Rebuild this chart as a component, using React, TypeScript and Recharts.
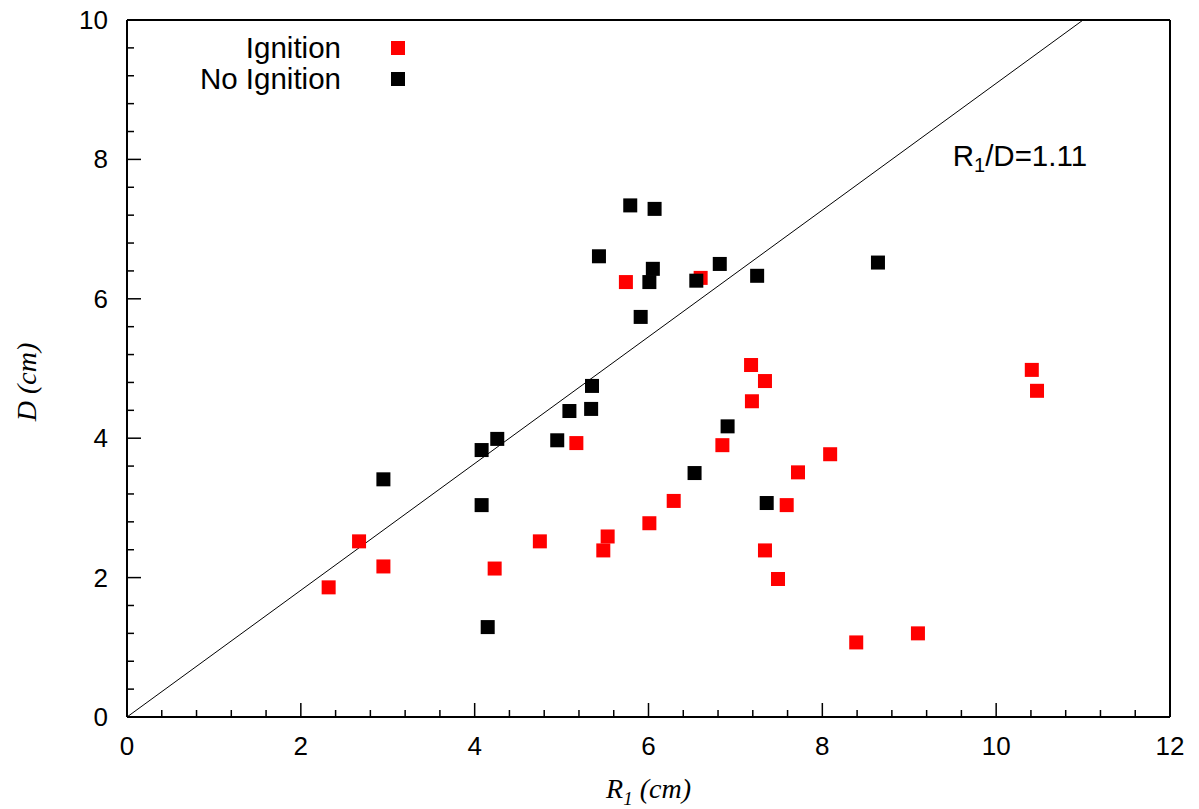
import {
  ReferenceDot,
  ReferenceLine,
  Scatter,
  ScatterChart,
  XAxis,
  YAxis,
} from 'recharts'

// Ignition / no-ignition tests: R1 (cm) against D (cm)
const IGNITION_R1 = [
  2.32, 2.67, 2.95, 4.23, 4.75, 5.17, 5.48, 5.53, 6.01, 6.29, 6.85, 7.18, 7.19,
  7.34, 7.34, 7.49, 7.59, 7.72, 8.09, 8.39, 9.1, 10.41, 10.47, 5.74, 6.6,
]
const IGNITION_D = [
  1.86, 2.52, 2.16, 2.13, 2.52, 3.93, 2.39, 2.59, 2.78, 3.1, 3.9, 5.05, 4.53,
  4.82, 2.39, 1.98, 3.04, 3.51, 3.77, 1.07, 1.2, 4.98, 4.68, 6.24, 6.3,
]
const NO_IGNITION_R1 = [
  5.79, 6.07, 5.43, 6.05, 6.01, 6.55, 6.82, 7.25, 5.91, 5.35, 5.34, 5.09, 4.95,
  4.26, 4.08, 6.91, 8.64, 2.95, 4.08, 4.15, 6.53, 7.36,
]
const NO_IGNITION_D = [
  7.34, 7.29, 6.61, 6.43, 6.24, 6.26, 6.5, 6.33, 5.74, 4.75, 4.42, 4.39, 3.97,
  3.99, 3.83, 4.17, 6.52, 3.41, 3.04, 1.29, 3.5, 3.07,
]
const SERIES_NAMES = ['Ignition', 'No Ignition']

const X_MAX = 12
const Y_MAX = 10
const MINOR_STEP = 0.4
const LABEL_STEP = 2
const RATIO_LINE = 1.1 // drawn slope of the R1/D line
const RATIO_LABEL = 'R1/D=1.11'

const RED = '#ff0000'
const BLACK = '#000000'
const SANS = '"Liberation Sans", Arial, Helvetica, sans-serif'
const SERIF = '"Liberation Serif", "Times New Roman", serif'
const TICK_FONT = 26
const TEXT_FONT = 28
const KEY_FONT = 29.5
const MAJOR_LEN = 14
const MINOR_LEN = 7

const minorTicks = (max: number) =>
  Array.from({ length: Math.round(max / MINOR_STEP) + 1 }, (_, i) =>
    Number((i * MINOR_STEP).toFixed(1))
  )

const isMajor = (v: number) =>
  Math.abs(v / LABEL_STEP - Math.round(v / LABEL_STEP)) < 1e-6

const ignitionData = IGNITION_R1.map((r, i) => ({ x: r, y: IGNITION_D[i] }))
const noIgnitionData = NO_IGNITION_R1.map((r, i) => ({ x: r, y: NO_IGNITION_D[i] }))

// ticks point inward, labels only on bottom/left
function TickMark({ x, y, payload, side }: any) {
  const v = payload.value as number
  const len = isMajor(v) ? MAJOR_LEN : MINOR_LEN
  const line =
    side === 'bottom'
      ? { x1: x, x2: x, y1: y, y2: y - len }
      : side === 'top'
        ? { x1: x, x2: x, y1: y, y2: y + len }
        : side === 'left'
          ? { x1: x, x2: x + len, y1: y, y2: y }
          : { x1: x, x2: x - len, y1: y, y2: y }
  return (
    <g>
      <line {...line} stroke={BLACK} strokeWidth={1.5} />
      {isMajor(v) && side === 'bottom' && (
        <text
          x={x}
          y={y + 38}
          textAnchor="middle"
          fontFamily={SANS}
          fontSize={TICK_FONT}
          fill={BLACK}
        >
          {v}
        </text>
      )}
      {isMajor(v) && side === 'left' && (
        <text
          x={x - 19}
          y={y}
          textAnchor="end"
          dominantBaseline="central"
          fontFamily={SANS}
          fontSize={TICK_FONT}
          fill={BLACK}
        >
          {v}
        </text>
      )}
    </g>
  )
}

const Square = (color: string) => (props: any) => (
  <rect x={props.cx - 7} y={props.cy - 7} width={14} height={14} fill={color} />
)

// gnuplot-style key: text right-aligned, marker to its right
function LegendBox() {
  const colors = [RED, BLACK]
  return (
    <div
      style={{
        position: 'absolute',
        left: 141,
        top: 32,
        fontFamily: SANS,
        fontSize: KEY_FONT,
        color: BLACK,
      }}
    >
      {SERIES_NAMES.map((name, i) => (
        <div key={name} style={{ display: 'flex', alignItems: 'center', height: 31 }}>
          <span style={{ width: 200, textAlign: 'right', lineHeight: '31px' }}>
            {name}
          </span>
          <span
            style={{
              width: 14,
              height: 14,
              marginLeft: 50,
              backgroundColor: colors[i],
            }}
          />
        </div>
      ))}
    </div>
  )
}

export default function App() {
  const axisLine = { stroke: BLACK, strokeWidth: 2 }
  return (
    <div
      style={{
        position: 'absolute',
        left: 0,
        top: 0,
        width: 1199,
        height: 809,
        background: '#fff',
      }}
    >
      <ScatterChart
        width={1199}
        height={809}
        margin={{ top: 10, right: 19, bottom: 52, left: 67 }}
      >
        <XAxis
          type="number"
          dataKey="x"
          domain={[0, X_MAX]}
          ticks={minorTicks(X_MAX)}
          interval={0}
          tickSize={0}
          tickMargin={0}
          height={40}
          axisLine={axisLine}
          tickLine={false}
          tick={<TickMark side="bottom" />}
          label={{
            position: 'bottom',
            content: ({ viewBox }: any) => (
              <text
                x={viewBox.x + viewBox.width / 2}
                y={viewBox.y + 81}
                textAnchor="middle"
                fontFamily={SERIF}
                fontStyle="italic"
                fontSize={TEXT_FONT}
                fill={BLACK}
              >
                R<tspan fontSize={19} dy={7}>1</tspan>
                <tspan dy={-7}> (cm)</tspan>
              </text>
            ),
          }}
        />
        <XAxis
          xAxisId="top"
          orientation="top"
          type="number"
          domain={[0, X_MAX]}
          ticks={minorTicks(X_MAX)}
          interval={0}
          tickSize={0}
          tickMargin={0}
          height={10}
          axisLine={axisLine}
          tickLine={false}
          tick={<TickMark side="top" />}
        />
        <YAxis
          type="number"
          dataKey="y"
          domain={[0, Y_MAX]}
          ticks={minorTicks(Y_MAX)}
          interval={0}
          tickSize={0}
          tickMargin={0}
          width={60}
          axisLine={axisLine}
          tickLine={false}
          tick={<TickMark side="left" />}
          label={{
            position: 'left',
            content: () => (
              <text
                x={26}
                y={382}
                transform="rotate(-90 26 382)"
                textAnchor="middle"
                dominantBaseline="central"
                fontFamily={SERIF}
                fontStyle="italic"
                fontSize={TEXT_FONT}
                fill={BLACK}
              >
                D (cm)
              </text>
            ),
          }}
        />
        <YAxis
          yAxisId="right"
          orientation="right"
          type="number"
          domain={[0, Y_MAX]}
          ticks={minorTicks(Y_MAX)}
          interval={0}
          tickSize={0}
          tickMargin={0}
          width={10}
          axisLine={axisLine}
          tickLine={false}
          tick={<TickMark side="right" />}
        />
        <ReferenceLine
          segment={[
            { x: 0, y: 0 },
            { x: Y_MAX * RATIO_LINE, y: Y_MAX },
          ]}
          stroke={BLACK}
          strokeWidth={1}
        />
        <ReferenceDot
          x={9.5}
          y={7.9}
          r={0}
          stroke="none"
          fill="none"
          label={{
            content: ({ viewBox }: any) => (
              <text
                x={viewBox.x}
                y={viewBox.y}
                fontFamily={SANS}
                fontSize={KEY_FONT}
                fill={BLACK}
              >
                {RATIO_LABEL.slice(0, 1)}
                <tspan fontSize={20} dy={6}>
                  {RATIO_LABEL.slice(1, 2)}
                </tspan>
                <tspan dy={-6}>{RATIO_LABEL.slice(2)}</tspan>
              </text>
            ),
          }}
        />
        <Scatter
          name={SERIES_NAMES[0]}
          data={ignitionData}
          fill={RED}
          shape={Square(RED)}
          isAnimationActive={false}
        />
        <Scatter
          name={SERIES_NAMES[1]}
          data={noIgnitionData}
          fill={BLACK}
          shape={Square(BLACK)}
          isAnimationActive={false}
        />
      </ScatterChart>
      <LegendBox />
    </div>
  )
}
